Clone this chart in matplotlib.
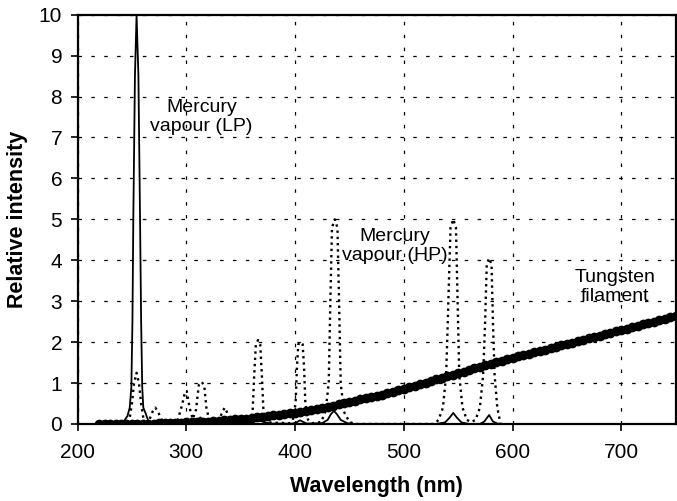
# coding: utf-8

import matplotlib
matplotlib.use('Agg')
import matplotlib.pyplot as plt
import numpy as np

plt.rcParams["font.family"] = ["Liberation Sans", "DejaVu Sans"]

# ---- data

# mercury vapour, low pressure (solid line)
lp_wl = [220, 235, 240, 243, 246, 248, 249.5, 250.5, 251.3, 252.8, 254.3, 256, 257.5, 258.5, 259.5,
         260.5, 262.8, 265, 268, 272, 280, 300, 306, 310, 313, 316, 320, 326, 355, 360, 363, 365.5,
         368, 371, 378, 398, 402, 404.7, 407.5, 411, 425, 430, 433, 435.8, 438.5, 442, 448, 455,
         530, 538, 542, 545.5, 549, 553, 560, 570, 574, 578.5, 582, 586, 590]
lp_val = [0, 0, 0.03, 0.08, 0.2, 0.4, 0.9, 2.5, 5.0, 8.5, 10.0, 8.5, 5.0, 2.5, 0.9,
          0.4, 0.25, 0.08, 0.03, 0.01, 0, 0.01, 0.04, 0.1, 0.16, 0.1, 0.04, 0.01, 0.01, 0.05, 0.14, 0.2,
          0.14, 0.05, 0.01, 0.01, 0.05, 0.09, 0.05, 0.01, 0.02, 0.1, 0.24, 0.32, 0.24, 0.1, 0.02, 0,
          0, 0.04, 0.15, 0.27, 0.15, 0.04, 0, 0, 0.06, 0.22, 0.06, 0.01, 0]

# mercury vapour, high pressure (dotted line)
hp_wl = [240, 245, 248, 250, 252, 254.3, 256.5, 258.5, 260.5, 263,
         266, 269, 271.5, 274, 277, 281, 286,
         292, 296, 299, 300.5, 303, 306,
         309, 311.5, 314, 316.5, 318.5, 321, 325,
         330, 333, 335.5, 338, 341, 348,
         358, 361, 362.5, 364, 366, 368, 369.5, 371, 374, 395,
         398, 400.5, 401.8, 403, 405, 407, 408.3, 409.5, 412, 416,
         424, 428, 431, 432.5, 434, 436.5, 439, 440.5, 442, 445, 450, 455,
         528, 532, 536, 539, 541, 543, 545.5, 548, 549.5, 551, 554, 558, 562,
         566, 570, 573, 574.8, 576.3, 578.5, 580.7, 582, 583.5, 586, 589]
hp_val = [0, 0.03, 0.15, 0.5, 1.0, 1.25, 1.0, 0.5, 0.15, 0.05,
          0.1, 0.3, 0.4, 0.3, 0.12, 0.03, 0.01,
          0.08, 0.45, 0.8, 0.8, 0.4, 0.12,
          0.35, 0.95, 1.03, 0.95, 0.4, 0.1, 0.02,
          0.05, 0.3, 0.4, 0.25, 0.06, 0.02,
          0.03, 0.3, 1.2, 1.95, 2.05, 1.95, 1.2, 0.3, 0.04, 0.02,
          0.1, 0.5, 1.4, 1.95, 2.0, 1.95, 1.4, 0.5, 0.1, 0.02,
          0.05, 0.3, 1.0, 3.0, 4.8, 5.0, 4.8, 3.0, 1.0, 0.3, 0.05, 0,
          0, 0.1, 0.4, 1.2, 3.0, 4.8, 5.0, 4.8, 3.0, 1.2, 0.4, 0.1, 0.05,
          0.1, 0.4, 1.2, 2.5, 3.9, 4.05, 3.9, 2.5, 1.2, 0.4, 0]

# tungsten filament (thick line with dots), every 5 nm from 220 to 750
w_wl = list(range(220, 755, 5))
w_val = [0.00, 0.00, 0.00, 0.00, 0.00, 0.00, 0.01, 0.01, 0.01, 0.01,
         0.01, 0.02, 0.02, 0.02, 0.03, 0.03, 0.04, 0.04, 0.05, 0.06,
         0.06, 0.07, 0.08, 0.09, 0.10, 0.11, 0.12, 0.13, 0.15, 0.16,
         0.18, 0.19, 0.21, 0.23, 0.25, 0.27, 0.28, 0.30, 0.32, 0.35,
         0.37, 0.40, 0.42, 0.45, 0.48, 0.51, 0.54, 0.57, 0.60, 0.63,
         0.66, 0.69, 0.72, 0.75, 0.79, 0.82, 0.86, 0.90, 0.94, 0.98,
         1.01, 1.05, 1.09, 1.13, 1.17, 1.20, 1.24, 1.28, 1.32, 1.36,
         1.39, 1.43, 1.47, 1.51, 1.54, 1.58, 1.62, 1.65, 1.69, 1.72,
         1.76, 1.79, 1.82, 1.86, 1.89, 1.93, 1.96, 1.99, 2.03, 2.06,
         2.10, 2.13, 2.16, 2.20, 2.23, 2.27, 2.30, 2.33, 2.37, 2.40,
         2.44, 2.47, 2.50, 2.54, 2.57, 2.61, 2.64]

x_ticks = [200, 300, 400, 500, 600, 700]
y_ticks = list(range(0, 11))


def main():
    fig = plt.figure(figsize=(6.77, 5.01), dpi=100)
    ax = fig.add_axes([0.1145, 0.1537, 0.8835, 0.8170])

    ax.plot(w_wl, w_val, color='black', lw=3.0, marker='o', markersize=6, zorder=3)
    ax.plot(hp_wl, hp_val, color='black', lw=1.7, linestyle=':', zorder=4)
    ax.plot(lp_wl, lp_val, color='black', lw=1.3, zorder=5)

    ax.set_xlim(200, 750)
    ax.set_ylim(0, 10)
    ax.set_xticks(x_ticks)
    ax.set_yticks(y_ticks)

    ax.grid(True, color='black', lw=0.9, linestyle=(0, (2.8, 7.5)))
    ax.set_axisbelow(True)

    for s in ax.spines.values():
        s.set_linewidth(1.6)
    ax.tick_params(axis='both', direction='out', length=5, width=1.2, labelsize=15)
    ax.tick_params(axis='x', pad=9)
    ax.tick_params(axis='y', pad=6)

    ax.set_xlabel('Wavelength (nm)', fontsize=15.5, fontweight='bold', labelpad=10)
    ax.set_ylabel('Relative intensity', fontsize=15.5, fontweight='bold', labelpad=8)

    ax.text(314, 7.5, 'Mercury\nvapour (LP)', fontsize=14, ha='center', va='center',
            linespacing=1.15)
    ax.text(492, 4.35, 'Mercury\nvapour (HP)', fontsize=14, ha='center', va='center',
            linespacing=1.15)
    ax.text(694, 3.34, 'Tungsten\nfilament', fontsize=14, ha='center', va='center',
            linespacing=1.15)

    fig.savefig('out.png', dpi=100)


### MAIN ####
if __name__ == '__main__':
    main()
